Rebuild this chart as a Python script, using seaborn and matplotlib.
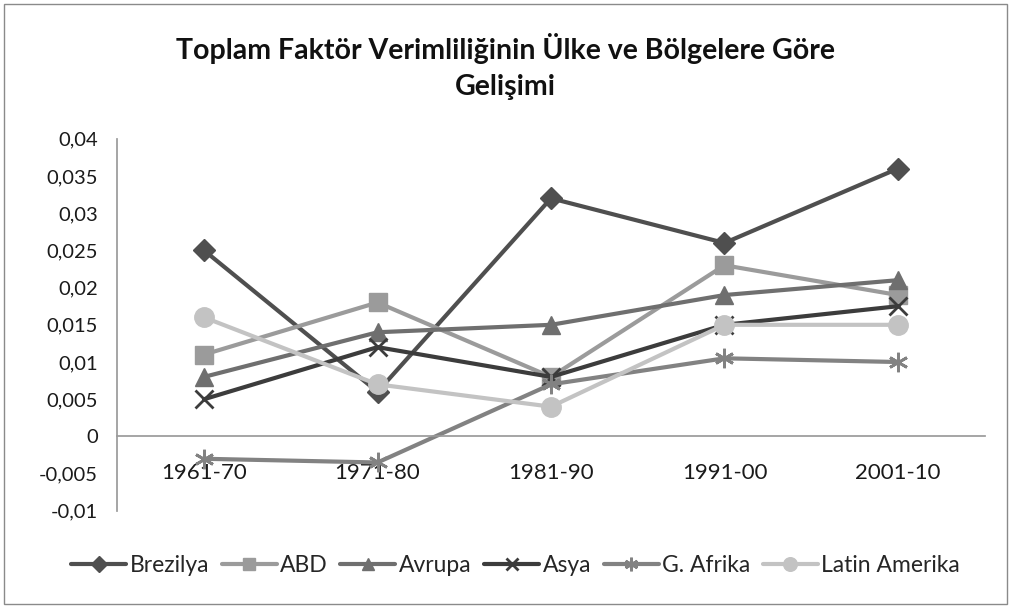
import pandas as pd
import matplotlib
matplotlib.use('Agg')
import matplotlib.pyplot as plt
import seaborn as sns
from matplotlib.ticker import FuncFormatter

# Datos
periodos = ['1961-70', '1971-80', '1981-90', '1991-00', '2001-10']
brezilya = [0.025, 0.006, 0.032, 0.026, 0.036]
abd = [0.011, 0.018, 0.008, 0.023, 0.019]
avrupa = [0.008, 0.014, 0.015, 0.019, 0.021]
asya = [0.005, 0.012, 0.008, 0.015, 0.0175]
g_afrika = [-0.003, -0.0035, 0.007, 0.0105, 0.010]
latin_amerika = [0.016, 0.007, 0.004, 0.015, 0.015]

series = {'Brezilya': brezilya, 'ABD': abd, 'Avrupa': avrupa,
          'Asya': asya, 'G. Afrika': g_afrika, 'Latin Amerika': latin_amerika}
colores = {'Brezilya': '#4f4f4f', 'ABD': '#9b9b9b', 'Avrupa': '#6f6f6f',
           'Asya': '#3c3c3c', 'G. Afrika': '#828282', 'Latin Amerika': '#c3c3c3'}
marcadores = {'Brezilya': 'D', 'ABD': 's', 'Avrupa': '^',
              'Asya': 'x', 'G. Afrika': (6, 2, 0), 'Latin Amerika': 'o'}
tamanos = {'Brezilya': 11, 'ABD': 13, 'Avrupa': 13, 'Asya': 13,
           'G. Afrika': 14, 'Latin Amerika': 14}

df = pd.DataFrame([(p, s, v) for s, vals in series.items() for p, v in zip(periodos, vals)],
                  columns=['periodo', 'serie', 'valor'])

sns.set_theme(style='white')
plt.rcParams['font.family'] = ['Lato', 'DejaVu Sans']

fig = plt.figure(figsize=(10.11, 6.06), dpi=100)
ax = fig.add_axes([0.116, 0.157, 0.858, 0.614])

for s in series:
    d = df[df['serie'] == s]
    sns.lineplot(data=d, x='periodo', y='valor', ax=ax, color=colores[s],
                 linewidth=3, marker=marcadores[s], markersize=tamanos[s],
                 markeredgecolor=colores[s], markerfacecolor=colores[s],
                 markeredgewidth=2 if s in ('Asya', 'G. Afrika') else 1,
                 label=s, sort=False)

ax.set_xlim(-0.5, 4.5)
ax.set_ylim(-0.01, 0.04)
ax.set_yticks([i * 0.005 for i in range(-2, 9)])
ax.yaxis.set_major_formatter(FuncFormatter(lambda v, p: ('%g' % round(v, 4)).replace('.', ',')))
ax.set_xlabel('')
ax.set_ylabel('')

for lado in ['top', 'right']:
    ax.spines[lado].set_visible(False)
ax.spines['bottom'].set_position(('data', 0))
ax.spines['bottom'].set_color('#9a9a9a')
ax.spines['left'].set_color('#9a9a9a')
ax.tick_params(axis='x', length=0, pad=19, labelsize=16, labelcolor='#1a1a1a')
ax.tick_params(axis='y', length=0, labelsize=14.5, labelcolor='#1a1a1a', pad=14)

fig.suptitle('Toplam Faktör Verimliliğinin Ülke ve Bölgelere Göre\nGelişimi',
             x=0.5, y=0.945, fontsize=20.5, fontweight='bold', linespacing=1.45,
             color='#111111')

handles, labels = ax.get_legend_handles_labels()
ax.legend(handles, labels, loc='center', bbox_to_anchor=(0.51, 1 - 566 / 606),
          bbox_transform=fig.transFigure, ncol=6, frameon=False, fontsize=16.5,
          handlelength=2.4, handletextpad=0.15, columnspacing=0.55, markerscale=0.7)

fig.patches.append(plt.Rectangle((0.004, 0.004), 0.992, 0.99, transform=fig.transFigure,
                                 fill=False, edgecolor='#8a8a8a', linewidth=1))

plt.savefig('out.png', dpi=100)
